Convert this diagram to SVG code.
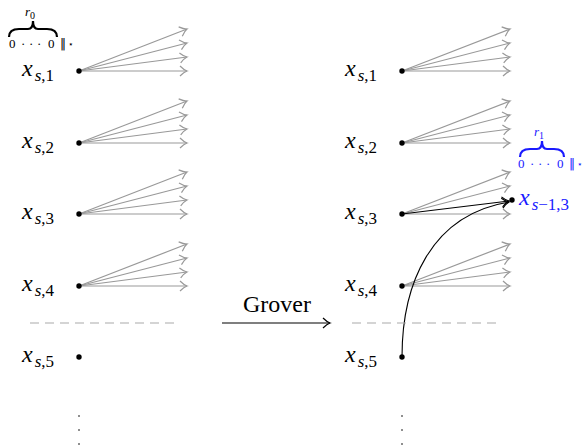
<svg xmlns="http://www.w3.org/2000/svg" width="585" height="445" viewBox="0 0 585 445">
<style>
.lbl{font-family:"Liberation Serif",serif;font-size:24px;fill:#000}
.it{font-style:italic}
.sub{font-size:17px}
.g{stroke:#999;stroke-width:1.2;fill:none;marker-end:url(#ag)}
.k{stroke:#000;stroke-width:1.1;fill:none;marker-end:url(#ak)}
.dash{stroke:#aaa;stroke-width:1.2;stroke-dasharray:9,6}
.small{font-family:"Liberation Serif",serif;font-size:13px;fill:#000}
.sym{font-family:"DejaVu Sans",sans-serif}
.blue{fill:#1a1aff}
</style>
<defs>
<marker id="ag" markerUnits="userSpaceOnUse" markerWidth="14" markerHeight="14" refX="0" refY="0" viewBox="-8 -7 10 14" orient="auto"><path d="M-7,-5 Q-3,-1 0,0 Q-3,1 -7,5" fill="none" stroke="#999" stroke-width="1.2"/></marker>
<marker id="ak" markerUnits="userSpaceOnUse" markerWidth="14" markerHeight="14" refX="0" refY="0" viewBox="-8 -7 10 14" orient="auto"><path d="M-7,-5 Q-3,-1 0,0 Q-3,1 -7,5" fill="none" stroke="#000" stroke-width="1.2"/></marker>
</defs>

<g id="left-brace">
<text class="small it" x="25" y="16" font-size="14">r<tspan font-size="10" dy="3" font-style="normal">0</tspan></text>
<path d="M9,37 Q9,29 19,29 L28,29 Q33,29 33,21 Q33,29 38,29 L47,29 Q57,29 57,37" fill="none" stroke="#000" stroke-width="2.2"/>
<text class="small" y="48"><tspan x="9">0</tspan><tspan x="21">·</tspan><tspan x="29">·</tspan><tspan x="37">·</tspan><tspan x="48">0</tspan><tspan class="sym" x="60" font-size="12">‖</tspan><tspan class="sym" x="68" font-size="9" dy="-1">⋆</tspan></text>
</g>

<g id="connectors">
<line class="g" x1="79" y1="71" x2="187" y2="29"/><line class="g" x1="79" y1="71" x2="187" y2="43"/><line class="g" x1="79" y1="71" x2="187" y2="57"/><line class="g" x1="79" y1="71" x2="187" y2="71"/>
<line class="g" x1="79" y1="143" x2="187" y2="101"/><line class="g" x1="79" y1="143" x2="187" y2="115"/><line class="g" x1="79" y1="143" x2="187" y2="129"/><line class="g" x1="79" y1="143" x2="187" y2="143"/>
<line class="g" x1="79" y1="214" x2="187" y2="172"/><line class="g" x1="79" y1="214" x2="187" y2="186"/><line class="g" x1="79" y1="214" x2="187" y2="200"/><line class="g" x1="79" y1="214" x2="187" y2="214"/>
<line class="g" x1="79" y1="286" x2="187" y2="244"/><line class="g" x1="79" y1="286" x2="187" y2="258"/><line class="g" x1="79" y1="286" x2="187" y2="272"/><line class="g" x1="79" y1="286" x2="187" y2="286"/>
<line class="g" x1="402" y1="71" x2="510" y2="29"/><line class="g" x1="402" y1="71" x2="510" y2="43"/><line class="g" x1="402" y1="71" x2="510" y2="57"/><line class="g" x1="402" y1="71" x2="510" y2="71"/>
<line class="g" x1="402" y1="143" x2="510" y2="101"/><line class="g" x1="402" y1="143" x2="510" y2="115"/><line class="g" x1="402" y1="143" x2="510" y2="129"/><line class="g" x1="402" y1="143" x2="510" y2="143"/>
<line class="g" x1="402" y1="214" x2="510" y2="172"/><line class="g" x1="402" y1="214" x2="510" y2="186"/><line class="g" x1="402" y1="214" x2="510" y2="214"/>
<line class="g" x1="402" y1="286" x2="510" y2="244"/><line class="g" x1="402" y1="286" x2="510" y2="258"/><line class="g" x1="402" y1="286" x2="510" y2="272"/><line class="g" x1="402" y1="286" x2="510" y2="286"/>
<line class="k" x1="402" y1="214" x2="509" y2="201"/>
<path class="k" d="M402,357 C402,285 430,215 509,202"/>
<line class="dash" x1="30" y1="323" x2="176" y2="323"/>
<line class="dash" x1="352" y1="323" x2="498" y2="323"/>
<line class="k" x1="222" y1="323" x2="330" y2="323"/>
<text class="lbl" x="277" y="312" text-anchor="middle" font-size="22">Grover</text>
</g>

<g id="left-nodes">
<g id="l1"><circle cx="79" cy="71" r="2.7"/><text class="lbl" x="22" y="76"><tspan class="it">x</tspan><tspan class="sub" dx="2" dy="5"><tspan class="it">s</tspan>,1</tspan></text></g>
<g id="l2"><circle cx="79" cy="143" r="2.7"/><text class="lbl" x="22" y="148"><tspan class="it">x</tspan><tspan class="sub" dx="2" dy="5"><tspan class="it">s</tspan>,2</tspan></text></g>
<g id="l3"><circle cx="79" cy="214" r="2.7"/><text class="lbl" x="22" y="219"><tspan class="it">x</tspan><tspan class="sub" dx="2" dy="5"><tspan class="it">s</tspan>,3</tspan></text></g>
<g id="l4"><circle cx="79" cy="286" r="2.7"/><text class="lbl" x="22" y="291"><tspan class="it">x</tspan><tspan class="sub" dx="2" dy="5"><tspan class="it">s</tspan>,4</tspan></text></g>
<g id="l5"><circle cx="79" cy="357" r="2.7"/><text class="lbl" x="22" y="362"><tspan class="it">x</tspan><tspan class="sub" dx="2" dy="5"><tspan class="it">s</tspan>,5</tspan></text></g>
<g id="ldots"><circle cx="79" cy="416" r="0.8"/><circle cx="79" cy="430" r="0.8"/><circle cx="79" cy="444" r="0.8"/></g>
</g>

<g id="right-nodes">
<g id="r1"><circle cx="402" cy="71" r="2.7"/><text class="lbl" x="345" y="76"><tspan class="it">x</tspan><tspan class="sub" dx="2" dy="5"><tspan class="it">s</tspan>,1</tspan></text></g>
<g id="r2"><circle cx="402" cy="143" r="2.7"/><text class="lbl" x="345" y="148"><tspan class="it">x</tspan><tspan class="sub" dx="2" dy="5"><tspan class="it">s</tspan>,2</tspan></text></g>
<g id="r3"><circle cx="402" cy="214" r="2.7"/><text class="lbl" x="345" y="219"><tspan class="it">x</tspan><tspan class="sub" dx="2" dy="5"><tspan class="it">s</tspan>,3</tspan></text></g>
<g id="r4"><circle cx="402" cy="286" r="2.7"/><text class="lbl" x="345" y="291"><tspan class="it">x</tspan><tspan class="sub" dx="2" dy="5"><tspan class="it">s</tspan>,4</tspan></text></g>
<g id="r5"><circle cx="402" cy="357" r="2.7"/><text class="lbl" x="345" y="362"><tspan class="it">x</tspan><tspan class="sub" dx="2" dy="5"><tspan class="it">s</tspan>,5</tspan></text></g>
<g id="rdots"><circle cx="402" cy="416" r="0.8"/><circle cx="402" cy="430" r="0.8"/><circle cx="402" cy="444" r="0.8"/></g>
</g>

<g id="target">
<circle cx="512" cy="200" r="2.7"/>
<text class="lbl blue" x="519" y="205"><tspan class="it">x</tspan><tspan class="sub" dx="2" dy="5"><tspan class="it">s</tspan>−1,3</tspan></text>
<text class="small it blue" x="534" y="136" font-size="14">r<tspan font-size="10" dy="3" font-style="normal">1</tspan></text>
<path d="M520,157 Q520,149 530,149 L537,149 Q542,149 542,141 Q542,149 547,149 L554,149 Q564,149 564,157" fill="none" stroke="#1a1aff" stroke-width="2.2"/>
<text class="small blue" y="168"><tspan x="518">0</tspan><tspan x="530">·</tspan><tspan x="538">·</tspan><tspan x="546">·</tspan><tspan x="557">0</tspan><tspan class="sym" x="569" font-size="12">‖</tspan><tspan class="sym" x="577" font-size="9" dy="-1">⋆</tspan></text>
</g>
</svg>
